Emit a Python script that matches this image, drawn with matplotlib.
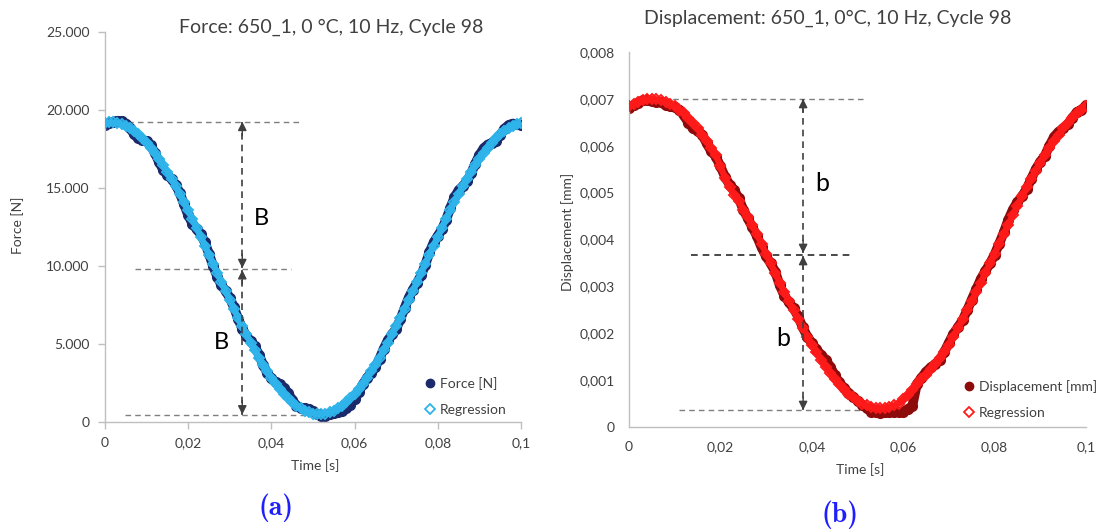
import matplotlib
matplotlib.use("Agg")
import matplotlib.pyplot as plt
from matplotlib.lines import Line2D
from matplotlib.ticker import FuncFormatter
import numpy as np

# ---------------- data ----------------
# sampling instants (ms), one sample per millisecond over one 10 Hz cycle
time_ms = list(range(0, 101))

force_measured = [
    19010, 19150, 19250, 19310, 19290, 19130, 18830, 18450, 18180, 18080,
    18000, 17730, 17240, 16660, 16160, 15830, 15580, 15210, 14660, 13950,
    13260, 12720, 12360, 12040, 11510, 10780, 9990, 9310, 8770, 8390,
    7960, 7340, 6630, 5990, 5510, 5190, 4850, 4320, 3670, 3140,
    2790, 2560, 2420, 2200, 1870, 1420, 1050, 920, 880, 820,
    690, 510, 410, 390, 520, 580, 620, 700, 870, 1120,
    1450, 1920, 2410, 2840, 3140, 3520, 4070, 4700, 5240, 5610,
    5990, 6580, 7290, 7960, 8490, 8920, 9410, 10090, 10880, 11510,
    11940, 12360, 12970, 13710, 14400, 14860, 15110, 15430, 15930, 16560,
    17110, 17540, 17780, 17900, 18030, 18380, 18800, 19030, 19130, 19090,
    19060,
]

force_regression = [
    19160, 19200, 19200, 19160, 19090, 18980, 18830, 18650, 18430, 18180,
    17900, 17580, 17240, 16860, 16460, 16030, 15580, 15110, 14610, 14100,
    13560, 13020, 12460, 11890, 11310, 10730, 10140, 9560, 8970, 8390,
    7810, 7240, 6680, 6140, 5610, 5090, 4600, 4120, 3670, 3240,
    2840, 2460, 2120, 1800, 1520, 1270, 1050, 870, 730, 620,
    540, 510, 510, 540, 620, 730, 870, 1050, 1270, 1520,
    1800, 2120, 2460, 2840, 3240, 3670, 4120, 4600, 5090, 5610,
    6140, 6680, 7240, 7810, 8390, 8970, 9560, 10140, 10730, 11310,
    11890, 12460, 13020, 13560, 14100, 14610, 15110, 15580, 16030, 16460,
    16860, 17240, 17580, 17900, 18180, 18430, 18650, 18830, 18980, 19090,
    19160,
]

# displacement in units of 1e-6 mm
disp_measured = [
    6810, 6860, 6920, 6970, 6970, 6960, 6930, 6930, 6860, 6840,
    6820, 6770, 6650, 6490, 6370, 6310, 6240, 6050, 5880, 5770,
    5560, 5340, 5170, 5060, 4880, 4640, 4450, 4260, 4070, 3830,
    3640, 3490, 3310, 3020, 2800, 2660, 2530, 2360, 2130, 1930,
    1790, 1660, 1540, 1440, 1290, 1110, 950, 840, 730, 650,
    560, 480, 400, 330, 310, 300, 310, 310, 310, 320,
    330, 380, 450, 920, 1050, 1180, 1270, 1340, 1440, 1600,
    1800, 1990, 2130, 2280, 2490, 2720, 2940, 3160, 3330, 3490,
    3680, 3910, 4150, 4420, 4640, 4800, 4920, 5080, 5290, 5500,
    5660, 5790, 6000, 6190, 6300, 6370, 6460, 6590, 6720, 6770,
    6860,
]

disp_regression = [
    6840, 6900, 6940, 6970, 6990, 7000, 6990, 6970, 6940, 6900,
    6840, 6770, 6690, 6590, 6490, 6370, 6240, 6110, 5960, 5800,
    5560, 5320, 5110, 4960, 4820, 4640, 4470, 4320, 4110, 3910,
    3700, 3490, 3290, 3080, 2880, 2680, 2490, 2300, 2110, 1930,
    1760, 1600, 1440, 1290, 1160, 1030, 910, 810, 710, 630,
    560, 500, 460, 430, 410, 400, 410, 430, 460, 500,
    590, 690, 800, 920, 1020, 1120, 1230, 1340, 1470, 1600,
    1760, 1930, 2110, 2300, 2490, 2680, 2880, 3080, 3290, 3490,
    3700, 3910, 4110, 4320, 4520, 4720, 4920, 5110, 5290, 5470,
    5640, 5800, 5960, 6110, 6240, 6370, 6490, 6590, 6690, 6770,
    6840,
]

force_ticks = [0, 5000, 10000, 15000, 20000, 25000]
disp_ticks = [0, 0.001, 0.002, 0.003, 0.004, 0.005, 0.006, 0.007, 0.008]
time_ticks = [0, 0.02, 0.04, 0.06, 0.08, 0.1]

# amplitude markers (upper level, mid level, lower level)
force_levels = [19250, 9800, 480]
disp_levels = [0.0070, 0.00368, 0.00036]

t = np.array(time_ms) / 1000.0
F_meas = np.array(force_measured, dtype=float)
F_reg = np.array(force_regression, dtype=float)
D_meas = np.array(disp_measured, dtype=float) * 1e-6
D_reg = np.array(disp_regression, dtype=float) * 1e-6

# ---------------- style ----------------
plt.rcParams["font.family"] = ["Lato", "DejaVu Sans"]
W, H = 1099, 532
fig = plt.figure(figsize=(W / 100, H / 100), dpi=100)


def fx(x):
    return x / W


def fy(y):
    return 1 - y / H


AXIS_GREY = "#BFBFBF"
TEXT = "#404040"
NAVY = "#1B2A6B"
SKY = "#2EB4EA"
DARKRED = "#8E0B0B"
RED = "#FF1A1A"
ARROW = "#3F3F3F"
DASH = "#7F7F7F"
CAPTION = "#1E1EFF"


def comma_fmt(v, _):
    if abs(v) < 1e-12:
        return "0"
    return ("%g" % v).replace(".", ",")


def thousands_fmt(v, _):
    return f"{v:,.0f}".replace(",", ".")


def disp_fmt(v, _):
    if abs(v) < 1e-12:
        return "0"
    return f"{v:.3f}".replace(".", ",")


def style_axes(ax, with_ticks):
    for s in ("top", "right"):
        ax.spines[s].set_visible(False)
    for s in ("left", "bottom"):
        ax.spines[s].set_color(AXIS_GREY)
        ax.spines[s].set_linewidth(1.0)
    if with_ticks:
        ax.tick_params(axis="both", direction="out", length=5, width=1,
                       color=AXIS_GREY, labelsize=10, labelcolor=TEXT, pad=6)
    else:
        ax.tick_params(axis="both", length=0, labelsize=10,
                       labelcolor=TEXT, pad=10)


def double_arrow(ax, x, y0, y1, scale):
    ax.plot([x, x], [y0, y1], ls=(0, (4, 3)), lw=1.2, color=ARROW, zorder=4)
    for tip, back in ((y1, y1 - scale), (y0, y0 + scale)):
        ax.annotate("", xy=(x, tip), xytext=(x, back),
                    arrowprops=dict(arrowstyle="-|>", color=ARROW, lw=1.0,
                                    mutation_scale=13, shrinkA=0, shrinkB=0),
                    zorder=5)


def draw_series(ax, y_meas, y_reg, c_meas, c_reg):
    ax.plot(t, y_meas, color=c_meas, lw=7, solid_capstyle="round", zorder=2)
    ax.plot(t, y_meas, ls="none", marker="o", ms=7, color=c_meas, zorder=2)
    ax.plot(t, y_reg, color=c_reg, lw=4.5, zorder=3)
    ax.plot(t, y_reg, ls="none", marker="D", ms=5.5, mfc="none", mec=c_reg,
            mew=1.4, zorder=3)


# ---------------- (a) force ----------------
ax1 = fig.add_axes([fx(105), fy(422), fx(521) - fx(105), fy(32) - fy(422)])
draw_series(ax1, F_meas, F_reg, NAVY, SKY)
ax1.set_xlim(0, 0.1)
ax1.set_ylim(0, 25000)
ax1.set_xticks(time_ticks)
ax1.set_yticks(force_ticks)
ax1.xaxis.set_major_formatter(FuncFormatter(comma_fmt))
ax1.yaxis.set_major_formatter(FuncFormatter(thousands_fmt))
style_axes(ax1, True)

ax1.hlines(force_levels[0], 0.0031, 0.0469, colors=DASH, lw=1,
           linestyles=(0, (4, 3)), zorder=1)
ax1.hlines(force_levels[1], 0.0072, 0.0447, colors=DASH, lw=1,
           linestyles=(0, (4, 3)), zorder=1)
ax1.hlines(force_levels[2], 0.0048, 0.0540, colors=DASH, lw=1,
           linestyles=(0, (4, 3)), zorder=1)
double_arrow(ax1, 0.033, force_levels[1] + 60, force_levels[0], 900)
double_arrow(ax1, 0.033, force_levels[2], force_levels[1] - 60, 900)
ax1.text(0.0375, 13040, "B", fontsize=17, color="black", ha="center",
         va="center")
ax1.text(0.0281, 5110, "B", fontsize=17, color="black", ha="center",
         va="center")

h_data = Line2D([], [], ls="none", marker="o", ms=6, color=NAVY)
h_reg = Line2D([], [], ls="none", marker="D", ms=5, mfc="none", mec=SKY,
               mew=1.3)
ax1.legend([h_data, h_reg], ["Force [N]", "Regression"], loc="upper left",
           bbox_to_anchor=(fx(419), fy(370)), bbox_transform=fig.transFigure,
           frameon=False, fontsize=10, handlelength=0.6, handletextpad=0.4,
           labelspacing=1.0, borderpad=0, labelcolor=TEXT)

fig.text(fx(331), fy(27), "Force: 650_1, 0 °C, 10 Hz, Cycle 98",
         fontsize=14, color=TEXT, ha="center", va="center")
fig.text(fx(18), fy(225), "Force [N]", fontsize=10, color=TEXT,
         rotation=90, ha="center", va="center")
fig.text(fx(315), fy(466), "Time [s]", fontsize=10, color=TEXT,
         ha="center", va="center")
fig.text(fx(276), fy(508), "(a)", fontsize=20, color=CAPTION,
         family="cmb10", ha="center", va="center")

# ---------------- (b) displacement ----------------
ax2 = fig.add_axes([fx(629), fy(427), fx(1086) - fx(629), fy(52) - fy(427)])
draw_series(ax2, D_meas, D_reg, DARKRED, RED)
ax2.set_xlim(0, 0.1)
ax2.set_ylim(0, 0.008)
ax2.set_xticks(time_ticks)
ax2.set_yticks(disp_ticks)
ax2.xaxis.set_major_formatter(FuncFormatter(comma_fmt))
ax2.yaxis.set_major_formatter(FuncFormatter(disp_fmt))
style_axes(ax2, False)

ax2.hlines(disp_levels[0], 0.0075, 0.0517, colors=DASH, lw=1,
           linestyles=(0, (4, 3)), zorder=1)
ax2.hlines(disp_levels[1], 0.0136, 0.0488, colors="#2A2A2A", lw=1.2,
           linestyles=(0, (4, 3)), zorder=1)
ax2.hlines(disp_levels[2], 0.0109, 0.0550, colors=DASH, lw=1,
           linestyles=(0, (4, 3)), zorder=1)
double_arrow(ax2, 0.0381, disp_levels[1] + 0.00003, disp_levels[0], 0.00028)
double_arrow(ax2, 0.0381, disp_levels[2], disp_levels[1] - 0.00003, 0.00028)
ax2.text(0.0422, 0.00519, "b", fontsize=18, color="black", ha="center",
         va="center")
ax2.text(0.0337, 0.00189, "b", fontsize=18, color="black", ha="center",
         va="center")

h_data2 = Line2D([], [], ls="none", marker="o", ms=6, color=DARKRED)
h_reg2 = Line2D([], [], ls="none", marker="D", ms=5, mfc="none", mec=RED,
                mew=1.3)
ax2.legend([h_data2, h_reg2], ["Displacement [mm]", "Regression"],
           loc="upper left", bbox_to_anchor=(fx(958), fy(373)),
           bbox_transform=fig.transFigure, frameon=False, fontsize=10,
           handlelength=0.6, handletextpad=0.4, labelspacing=1.0,
           borderpad=0, labelcolor=TEXT)

fig.text(fx(828), fy(18), "Displacement: 650_1, 0°C, 10 Hz, Cycle 98",
         fontsize=14, color=TEXT, ha="center", va="center")
fig.text(fx(568), fy(232), "Displacement [mm]", fontsize=10, color=TEXT,
         rotation=90, ha="center", va="center")
fig.text(fx(860), fy(470), "Time [s]", fontsize=10, color=TEXT,
         ha="center", va="center")
fig.text(fx(840), fy(515), "(b)", fontsize=20, color=CAPTION,
         family="cmb10", ha="center", va="center")

fig.savefig("out.png", dpi=100)
